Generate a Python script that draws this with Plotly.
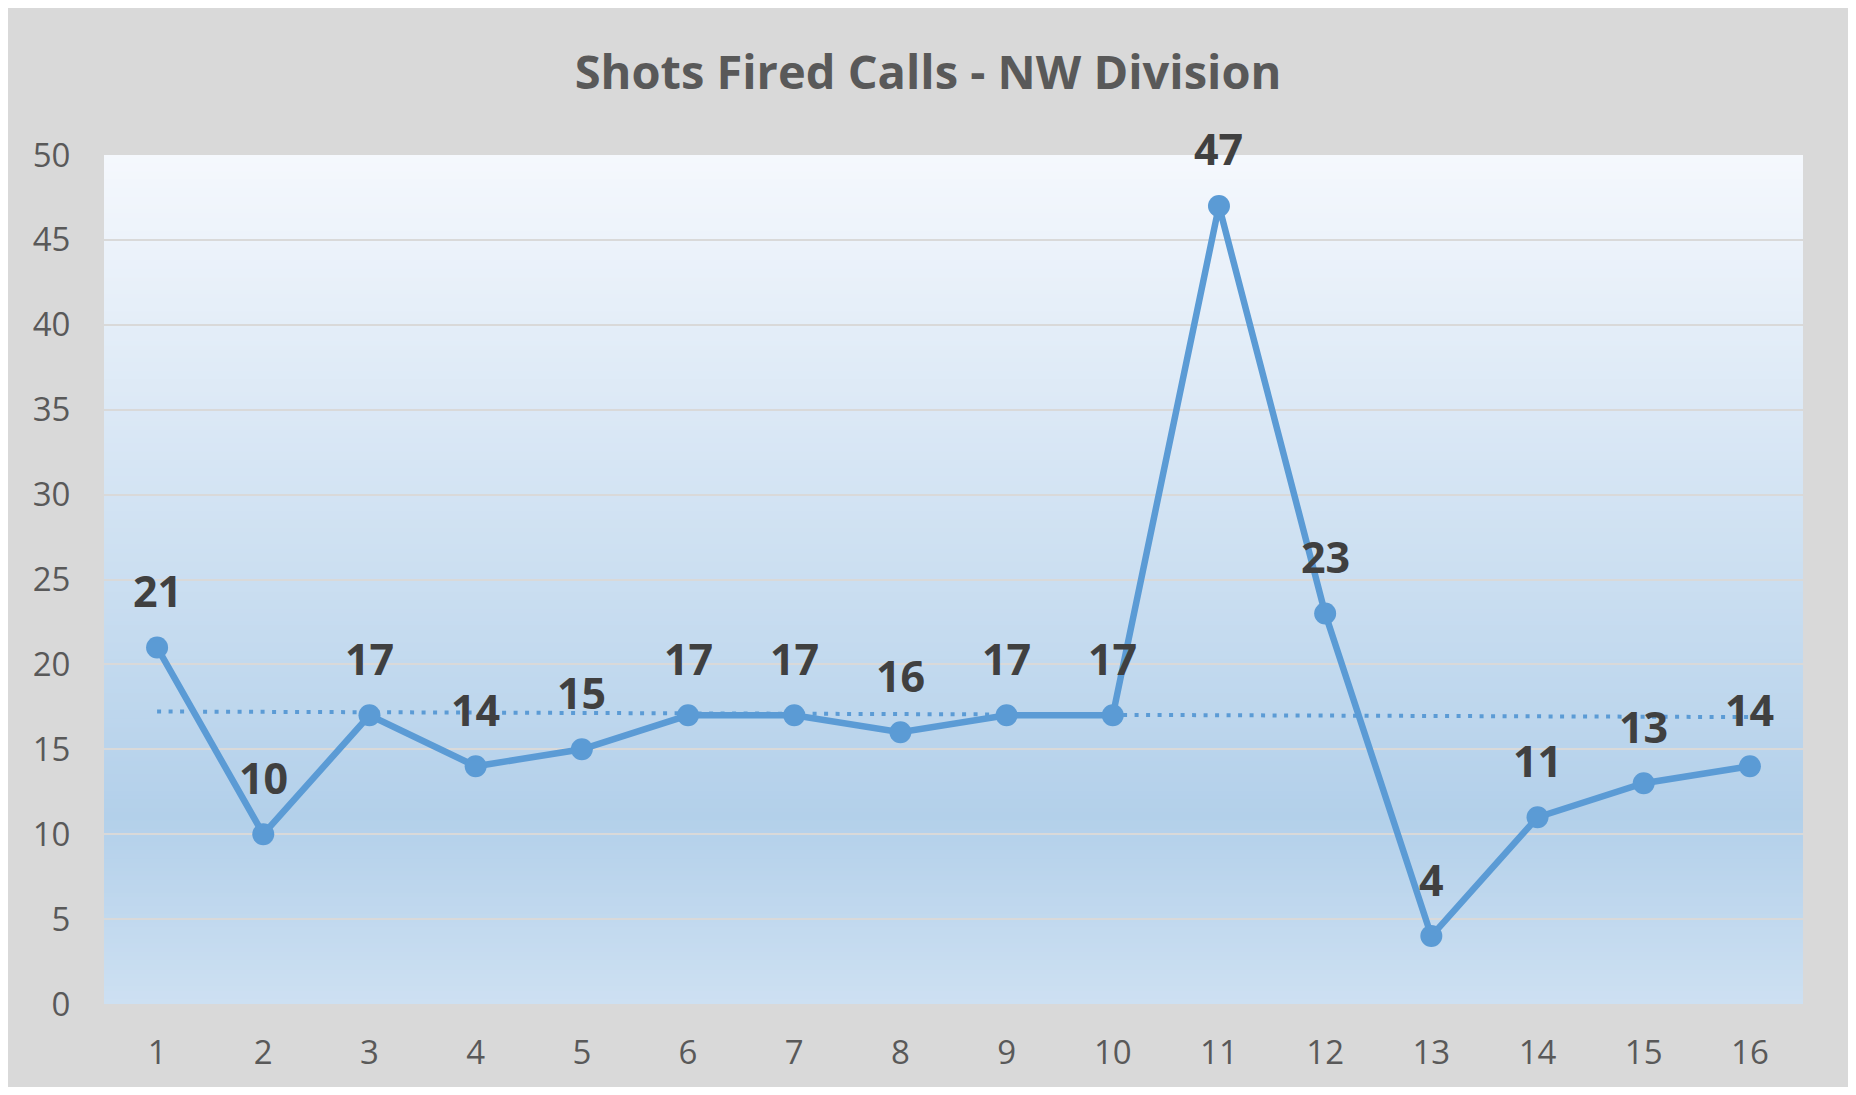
import numpy as np
import plotly.graph_objects as go

# ---- data ----
categories = list(range(1, 17))
tick_labels = [str(c) for c in categories]
shots_fired = [21, 10, 17, 14, 15, 17, 17, 16, 17, 17, 47, 23, 4, 11, 13, 14]
y_ticks = [0, 5, 10, 15, 20, 25, 30, 35, 40, 45, 50]
title_text = "Shots Fired Calls - NW Division"

# ---- style ----
W, H = 1840, 1079
L, R, T, B = 96, 45, 147, 83
BLUE = "#5b9bd5"
GRID = "#d9d9d9"
OUTER = "#d9d9d9"

# linear trend line (fit from data)
xs = np.array(categories, dtype=float)
slope, intercept = np.polyfit(xs, np.array(shots_fired, dtype=float), 1)
trend = slope * xs + intercept

fig = go.Figure()

fig.add_trace(go.Scatter(
    x=categories, y=trend, mode="lines",
    line=dict(color=BLUE, width=4, dash="4px,7.5px"),
    hoverinfo="skip", showlegend=False,
))
fig.add_trace(go.Scatter(
    x=categories, y=shots_fired, mode="lines+markers",
    line=dict(color=BLUE, width=6.5),
    marker=dict(color=BLUE, size=22),
    showlegend=False,
))

# data labels
for c, v in zip(categories, shots_fired):
    fig.add_annotation(
        x=c, y=v, text=str(v), showarrow=False, yshift=57,
        font=dict(family="Open Sans", size=43, color="#404040", weight="bold"),
    )


# gradient plot background
def hex2rgb(h):
    h = h.lstrip("#")
    return [int(h[i:i + 2], 16) for i in (0, 2, 4)]


stops = [(0.0, hex2rgb("#f5f8fd")), (0.78, hex2rgb("#b3d0ea")), (1.0, hex2rgb("#cde0f2"))]


def grad(t):
    for (t0, c0), (t1, c1) in zip(stops[:-1], stops[1:]):
        if t <= t1:
            f = (t - t0) / (t1 - t0)
            return "rgb(%d,%d,%d)" % tuple(round(a + (b - a) * f) for a, b in zip(c0, c1))
    return "rgb(%d,%d,%d)" % tuple(stops[-1][1])


shapes = []
N = 200
for i in range(N):
    t = (i + 0.5) / N  # from top
    shapes.append(dict(
        type="rect", xref="paper", yref="paper", layer="below",
        x0=0, x1=1, y0=max(0, 1 - (i + 1) / N - 0.001), y1=min(1, 1 - i / N + 0.001),
        fillcolor=grad(t), line=dict(width=0),
    ))

fig.update_layout(
    width=W, height=H,
    margin=dict(l=L, r=R, t=T, b=B, pad=0),
    paper_bgcolor=OUTER,
    plot_bgcolor="rgba(0,0,0,0)",
    shapes=shapes,
    title=dict(
        text=title_text, x=0.5, xanchor="center", y=1 - 65 / H, yanchor="middle",
        font=dict(family="Open Sans", size=47, color="#595959", weight="bold"),
    ),
    xaxis=dict(
        range=[0.5, 16.5], tickvals=categories, ticktext=tick_labels,
        showgrid=False, zeroline=False, showline=False,
        ticks="outside", ticklen=19, tickcolor="rgba(0,0,0,0)",
        tickfont=dict(family="Open Sans", size=33, color="#595959"),
    ),
    yaxis=dict(
        range=[0, 50], tickvals=y_ticks,
        showgrid=True, gridcolor=GRID, gridwidth=2,
        zeroline=False, showline=False,
        ticks="outside", ticklen=26, tickcolor="rgba(0,0,0,0)",
        tickfont=dict(family="Open Sans", size=33, color="#595959"),
    ),
)

fig.write_html("out.html")
